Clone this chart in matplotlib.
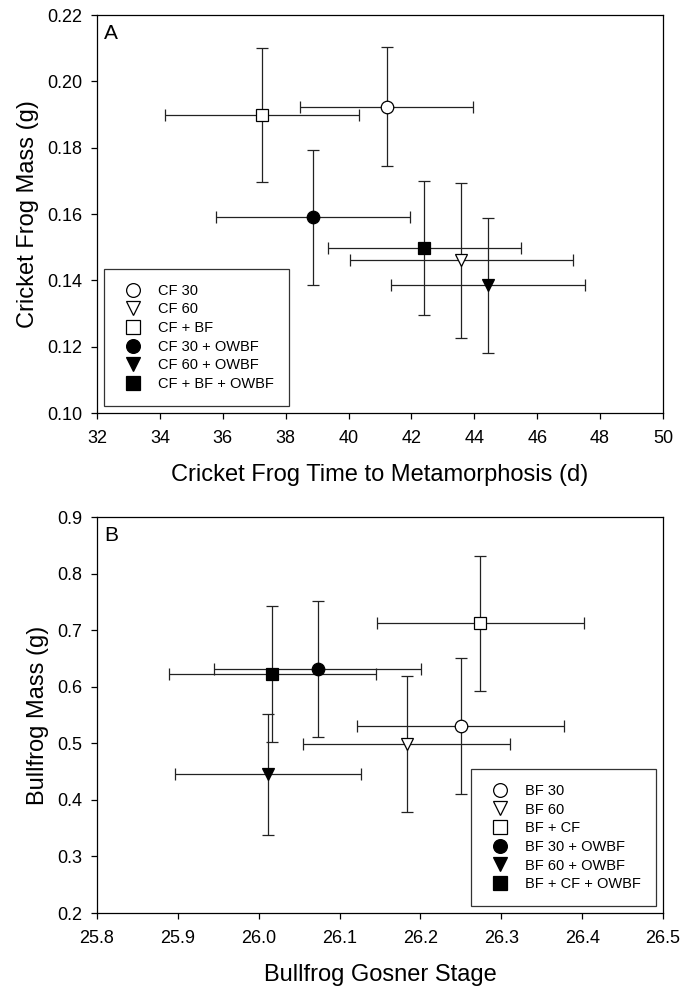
import matplotlib
matplotlib.use("Agg")
from matplotlib import pyplot as plt

plt.rcParams['font.family'] = ['Liberation Sans', 'DejaVu Sans']

# panel A - cricket frogs
cf_labels = ['CF 30', 'CF 60', 'CF + BF', 'CF 30 + OWBF', 'CF 60 + OWBF', 'CF + BF + OWBF']
cf_time = [41.21, 43.59, 37.24, 38.87, 44.43, 42.41]
cf_time_err = [2.75, 3.54, 3.08, 3.07, 3.08, 3.07]
cf_mass = [0.1924, 0.1461, 0.1899, 0.1590, 0.1385, 0.1499]
cf_mass_err = [0.0180, 0.0234, 0.0202, 0.0203, 0.0203, 0.0202]

# panel B - bullfrogs
bf_labels = ['BF 30', 'BF 60', 'BF + CF', 'BF 30 + OWBF', 'BF 60 + OWBF', 'BF + CF + OWBF']
bf_stage = [26.250, 26.183, 26.274, 26.073, 26.011, 26.017]
bf_stage_err = [0.128, 0.128, 0.128, 0.128, 0.115, 0.128]
bf_mass = [0.531, 0.499, 0.712, 0.632, 0.445, 0.622]
bf_mass_err = [0.120, 0.120, 0.120, 0.120, 0.107, 0.120]

markers = ['o', 'v', 's', 'o', 'v', 's']
faces = ['white', 'white', 'white', 'black', 'black', 'black']


def panel(ax, x, xe, y, ye, labels, letter, loc):
    for i in range(len(x)):
        ax.errorbar(x[i], y[i], xerr=xe[i], yerr=ye[i], fmt=markers[i],
                    mfc=faces[i], mec='black', mew=0.9, ms=9,
                    ecolor='#222222', elinewidth=0.9, capsize=4, capthick=0.9,
                    label=labels[i])
    ax.text(0.012, 0.978, letter, transform=ax.transAxes, fontsize=15,
            va='top', ha='left')
    handles, labs = ax.get_legend_handles_labels()
    handles = [h[0] for h in handles]
    leg = ax.legend(handles, labs, loc=loc, fontsize=10.5, frameon=True,
                    fancybox=False, edgecolor='black', borderpad=1.0,
                    labelspacing=0.32, handletextpad=0.7, handlelength=2.0,
                    borderaxespad=0.5, markerscale=1.1)
    leg.get_frame().set_linewidth(0.9)
    for s in ax.spines.values():
        s.set_linewidth(0.9)
    ax.tick_params(direction='out', length=4.5, width=0.9, labelsize=13, pad=6,
                   top=False, right=False)
    ax.tick_params(axis='x', pad=8)


fig = plt.figure(figsize=(6.84, 9.89), dpi=100)

ax1 = fig.add_axes([0.1418, 0.5824, 0.8275, 0.4024])
panel(ax1, cf_time, cf_time_err, cf_mass, cf_mass_err, cf_labels, 'A', 'lower left')
ax1.set_xlim(32, 50)
ax1.set_ylim(0.10, 0.22)
ax1.set_xticks(range(32, 51, 2))
ax1.set_yticks([0.10, 0.12, 0.14, 0.16, 0.18, 0.20, 0.22])
ax1.set_yticklabels(['0.10', '0.12', '0.14', '0.16', '0.18', '0.20', '0.22'])
ax1.set_xlabel('Cricket Frog Time to Metamorphosis (d)', fontsize=17, labelpad=12)
ax1.set_ylabel('Cricket Frog Mass (g)', fontsize=17, labelpad=6)

ax2 = fig.add_axes([0.1418, 0.0768, 0.8275, 0.4004])
panel(ax2, bf_stage, bf_stage_err, bf_mass, bf_mass_err, bf_labels, 'B', 'lower right')
ax2.set_xlim(25.8, 26.5)
ax2.set_ylim(0.2, 0.9)
ax2.set_xticks([25.8, 25.9, 26.0, 26.1, 26.2, 26.3, 26.4, 26.5])
ax2.set_xticklabels(['25.8', '25.9', '26.0', '26.1', '26.2', '26.3', '26.4', '26.5'])
ax2.set_yticks([0.2, 0.3, 0.4, 0.5, 0.6, 0.7, 0.8, 0.9])
ax2.set_xlabel('Bullfrog Gosner Stage', fontsize=17, labelpad=12)
ax2.set_ylabel('Bullfrog Mass (g)', fontsize=17, labelpad=6)

fig.savefig('out.png', dpi=100)
